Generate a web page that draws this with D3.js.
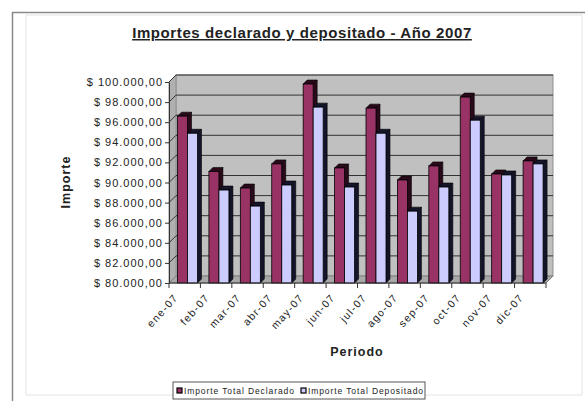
<!DOCTYPE html>
<html>
<head>
<meta charset="utf-8">
<script src="https://cdn.jsdelivr.net/npm/d3@7"></script>
<style>
  body { margin: 0; background: #fff; }
  svg { display: block; font-family: "Liberation Sans", Arial, sans-serif; }
</style>
</head>
<body>
<svg class="chart-svg" width="585" height="401"></svg>
<script>
const meses = ["ene-07", "feb-07", "mar-07", "abr-07", "may-07", "jun-07",
  "jul-07", "ago-07", "sep-07", "oct-07", "nov-07", "dic-07"];
const declarado = [96600, 91100, 89450, 91850, 99800, 91450,
  97400, 90250, 91650, 98500, 90850, 92150];
const depositado = [94900, 89250, 87650, 89750, 97500, 89550,
  94900, 87150, 89550, 96200, 90750, 91850];
const series = ["Importe Total Declarado", "Importe Total Depositado"];
const yTicks = [80000, 82000, 84000, 86000, 88000, 90000, 92000, 94000, 96000, 98000, 100000];

function drawChart() {
  const left = 169;
  const right = 546;
  const top = 82;
  const bottom = 283;
  const dx = 7; // wall depth
  const dy = -7;
  const bd = 4; // bar depth

  const svg = d3.select(".chart-svg");

  const xScale = d3.scaleBand().domain(meses).range([left, right]);
  const xSerie = d3.scaleBand().domain(series).range([8.5, 28.5]);
  const yScale = d3.scaleLinear().domain([80000, 100000]).range([bottom, top]);

  const fmt = (v) => "$ " + d3.format(",")(v).replace(/,/g, ".") + ",00";

  // chart border
  svg.append("rect")
    .attr("x", 26).attr("y", 15).attr("width", 556).attr("height", 380)
    .attr("fill", "none").attr("stroke", "#e4e4e4");
  svg.append("path")
    .attr("d", "M12.5,401 V12.5 H585")
    .attr("fill", "none").attr("stroke", "#8a8a8a").attr("stroke-width", 1.5);

  // title
  svg.append("text")
    .attr("x", 302).attr("y", 38)
    .attr("text-anchor", "middle")
    .style("font-size", "15px").style("font-weight", "bold")
    .style("letter-spacing", "0.6px")
    .style("text-decoration", "underline")
    .attr("fill", "#222")
    .text("Importes declarado y depositado - Año 2007");

  // back wall
  svg.append("rect")
    .attr("x", left + dx).attr("y", top + dy)
    .attr("width", right - left).attr("height", bottom - top)
    .attr("fill", "#c0c0c0").attr("stroke", "#909090");
  // side wall
  svg.append("polygon")
    .attr("points", [[left, top], [left + dx, top + dy], [left + dx, bottom + dy], [left, bottom]].join(" "))
    .attr("fill", "#b0b0b0").attr("stroke", "#909090");
  // floor
  svg.append("polygon")
    .attr("points", [[left, bottom], [right, bottom], [right + dx, bottom + dy], [left + dx, bottom + dy]].join(" "))
    .attr("fill", "#a8a8a8").attr("stroke", "#808080");

  // gridlines
  const grid = svg.append("g").attr("class", "grid");
  grid.selectAll(".back").data(yTicks.slice(1)).enter().append("line")
    .attr("x1", left + dx).attr("x2", right + dx)
    .attr("y1", (d) => yScale(d) + dy).attr("y2", (d) => yScale(d) + dy)
    .attr("stroke", "#333").attr("stroke-width", 1);
  grid.selectAll(".side").data(yTicks.slice(1)).enter().append("line")
    .attr("x1", left).attr("x2", left + dx)
    .attr("y1", (d) => yScale(d)).attr("y2", (d) => yScale(d) + dy)
    .attr("stroke", "#333").attr("stroke-width", 1);

  // y axis
  svg.append("g")
    .attr("transform", "translate(" + left + ",0)")
    .call(d3.axisLeft(yScale).tickValues(yTicks).tickFormat(fmt).tickSize(4).tickSizeOuter(0))
    .call((g) => g.select(".domain").attr("stroke", "#333"))
    .call((g) => g.selectAll(".tick line").attr("stroke", "#333"))
    .selectAll("text")
    .attr("x", -6)
    .attr("fill", "#222")
    .style("font-size", "11px")
    .style("letter-spacing", "1px")
    .style("font-family", "'Liberation Sans', Arial, sans-serif");

  // bars
  const colors = {
    "Importe Total Declarado": { front: "#993366", dark: "#2a0a1a" },
    "Importe Total Depositado": { front: "#ccccff", dark: "#14142a" }
  };
  const rows = meses.map((m, i) => ({ mes: m, values: [
    { serie: series[0], v: declarado[i] },
    { serie: series[1], v: depositado[i] }
  ] }));

  const groups = svg.append("g").selectAll("g").data(rows).enter().append("g")
    .attr("transform", (d) => "translate(" + xScale(d.mes) + ",0)");

  const bars = groups.selectAll("g").data((d) => d.values).enter().append("g");
  const bw = xSerie.bandwidth();

  // side face
  bars.append("polygon")
    .attr("points", (d) => {
      const x = xSerie(d.serie) + bw, y = yScale(d.v);
      return [[x, y], [x + bd, y - bd], [x + bd, bottom - bd], [x, bottom]].join(" ");
    })
    .attr("fill", (d) => colors[d.serie].dark).attr("stroke", "#000").attr("stroke-width", 0.6);
  // top face
  bars.append("polygon")
    .attr("points", (d) => {
      const x = xSerie(d.serie), y = yScale(d.v);
      return [[x, y], [x + bd, y - bd], [x + bw + bd, y - bd], [x + bw, y]].join(" ");
    })
    .attr("fill", (d) => colors[d.serie].dark).attr("stroke", "#000").attr("stroke-width", 0.6);
  // front face
  bars.append("rect")
    .attr("x", (d) => xSerie(d.serie))
    .attr("y", (d) => yScale(d.v))
    .attr("width", bw)
    .attr("height", (d) => bottom - yScale(d.v))
    .attr("fill", (d) => colors[d.serie].front)
    .attr("stroke", "#000").attr("stroke-width", 0.8);

  // x axis
  const xAxis = svg.append("g").attr("transform", "translate(0," + bottom + ")");
  xAxis.append("line").attr("x1", left).attr("x2", right).attr("stroke", "#333");
  xAxis.selectAll(".tk").data(d3.range(meses.length + 1)).enter().append("line")
    .attr("x1", (i) => left + i * xScale.step()).attr("x2", (i) => left + i * xScale.step())
    .attr("y1", 0).attr("y2", 5).attr("stroke", "#333");
  xAxis.selectAll(".lbl").data(meses).enter().append("text")
    .attr("text-anchor", "end")
    .attr("transform", (d) => "translate(" + (xScale(d) + xScale.bandwidth() / 2 - 6) + ",15)rotate(-48)")
    .attr("fill", "#222")
    .style("font-size", "10.5px")
    .style("letter-spacing", "1.3px")
    .text((d) => d);

  // axis titles
  svg.append("text")
    .attr("transform", "translate(70,182)rotate(-90)")
    .attr("text-anchor", "middle")
    .style("font-size", "12.5px").style("font-weight", "bold")
    .style("letter-spacing", "1px")
    .attr("fill", "#222")
    .text("Importe");
  svg.append("text")
    .attr("x", 357).attr("y", 356)
    .attr("text-anchor", "middle")
    .style("font-size", "12.5px").style("font-weight", "bold")
    .style("letter-spacing", "1px")
    .attr("fill", "#222")
    .text("Periodo");

  // legend
  const legend = svg.append("g").attr("transform", "translate(173,382)");
  legend.append("rect")
    .attr("width", 252).attr("height", 17)
    .attr("fill", "#fff").attr("stroke", "#555");
  const items = legend.selectAll(".item").data(series).enter().append("g")
    .attr("transform", (d, i) => "translate(" + (4 + i * 124) + ",0)");
  items.append("rect")
    .attr("y", 6).attr("width", 5).attr("height", 5)
    .attr("fill", (d) => colors[d].front).attr("stroke", "#000").attr("stroke-width", 1.2);
  items.append("text")
    .attr("x", 7).attr("y", 11.5)
    .style("font-size", "8.5px")
    .style("letter-spacing", "0.9px")
    .attr("fill", "#222")
    .text((d) => d);
}

drawChart();
</script>
</body>
</html>
